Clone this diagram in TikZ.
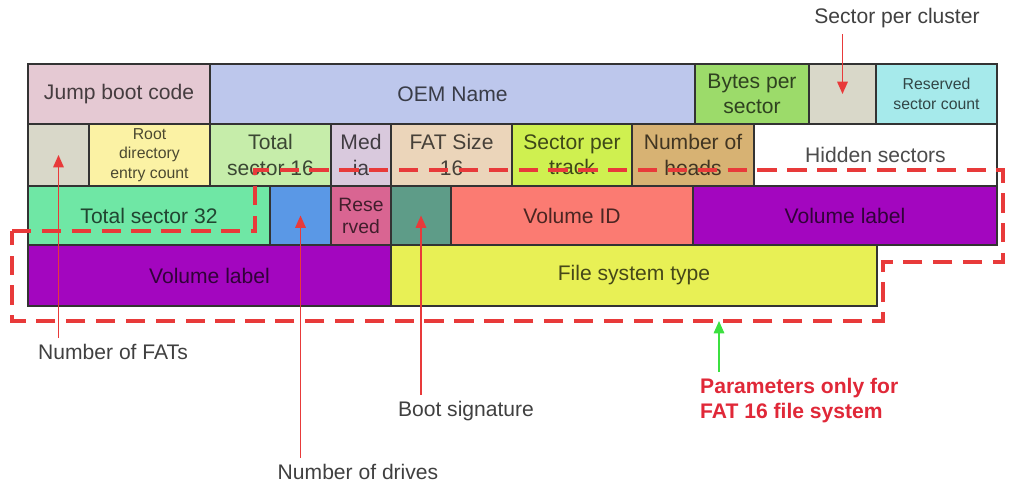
\documentclass[tikz,border=0pt]{standalone}
\usepackage{fontspec}
\setmainfont{Liberation Sans}
\usetikzlibrary{arrows.meta}

\definecolor{jumpc}{HTML}{E5C9D3}
\definecolor{oemc}{HTML}{BDC7EC}
\definecolor{bpsc}{HTML}{9CDB6A}
\definecolor{spcc}{HTML}{D9D8C9}
\definecolor{rscc}{HTML}{A6EAEB}
\definecolor{rootc}{HTML}{FBF2A4}
\definecolor{tsxvic}{HTML}{C6EDAA}
\definecolor{mediac}{HTML}{D9C9DD}
\definecolor{fatxvic}{HTML}{EBD5BA}
\definecolor{sptc}{HTML}{CFF050}
\definecolor{headc}{HTML}{D7B273}
\definecolor{tsxxxiic}{HTML}{6FE7A5}
\definecolor{drvc}{HTML}{5A98E6}
\definecolor{resvc}{HTML}{D96592}
\definecolor{bsigc}{HTML}{5E9C88}
\definecolor{volidc}{HTML}{FB7B72}
\definecolor{vlabc}{HTML}{A306BF}
\definecolor{fstc}{HTML}{E8F055}
\definecolor{markred}{HTML}{E83A3A}
\definecolor{notered}{HTML}{E02838}
\definecolor{markgreen}{HTML}{3CE040}

% one field of the boot sector: name, corners, colour, node options, text
\newcommand{\field}[8]{%
  \draw[field=#6] (#2,#3) rectangle (#4,#5)
    node[midway, text=#6!30!black, #7] (#1) {#8};}

\newcommand{\fsmall}{\fontsize{9}{11}\selectfont}

\begin{document}
\begin{tikzpicture}[x=0.02cm, y=-0.02cm,
    every node/.style={align=center, font=\fontsize{12}{14.5}\selectfont},
    field/.style={draw=black!80, line width=0.8pt, fill=#1},
    fatonly/.style={draw=markred, line width=1.8pt, dash pattern=on 11pt off 6pt},
    ptr/.style={draw=markred, line width=0.8pt, -{Triangle[length=7pt, width=6pt]}},
    label/.style={text=black!75}]
  \useasboundingbox (0,0) rectangle (1013,483);

  % row 1
  \field{jump}{28}{64}{210}{124}{jumpc}{}{Jump boot code}
  \field{oem}{210}{64}{695}{124}{oemc}{}{OEM Name}
  \field{bps}{695}{64}{809}{124}{bpsc}{}{Bytes per\\sector}
  \field{spc}{809}{64}{876}{124}{spcc}{}{}
  \field{rsc}{876}{64}{997}{124}{rscc}{font=\fsmall}{Reserved\\sector count}

  % row 2
  \field{nfat}{28}{124}{89}{186}{spcc}{}{}
  \field{root}{89}{124}{210}{186}{rootc}{font=\fsmall}{Root\\directory\\entry count}
  \field{tsxvi}{210}{124}{331}{186}{tsxvic}{}{Total\\sector 16}
  \field{media}{331}{124}{391}{186}{mediac}{}{Med\\ia}
  \field{fatxvi}{391}{124}{512}{186}{fatxvic}{}{FAT Size\\16}
  \field{spt}{512}{124}{632}{186}{sptc}{}{Sector per\\track}
  \field{heads}{632}{124}{754}{186}{headc}{}{Number of\\heads}
  \field{hidden}{754}{124}{997}{186}{white}{}{Hidden sectors}

  % row 3
  \field{tsxxxii}{28}{186}{270}{245}{tsxxxiic}{}{Total sector 32}
  \field{drv}{270}{186}{331}{245}{drvc}{}{}
  \field{resv}{331}{186}{391}{245}{resvc}{font=\fontsize{11}{12.5}\selectfont}{Rese\\rved}
  \field{bsig}{391}{186}{451}{245}{bsigc}{}{}
  \field{volid}{451}{186}{693}{245}{volidc}{}{Volume ID}
  \field{vlaba}{693}{186}{997}{245}{vlabc}{}{Volume label}

  % row 4
  \field{vlabb}{28}{245}{391}{306}{vlabc}{}{Volume label}
  \field{fstype}{391}{245}{877}{306}{fstc}{}{File system type}

  % FAT 16 only region
  \draw[fatonly] (12,231) -- (255,231) -- (255,170) -- (1003,170)
    -- (1003,262) -- (883,262) -- (883,321) -- (12,321) -- cycle;
  \coordinate (fatbot) at (719,321);

  % labels
  \node[label] (spclbl) at (897,18) {Sector per cluster};
  \node[label, anchor=west] (nfatlbl) at (32,352) {Number of FATs};
  \node[label] (drvlbl) at (358,472) {Number of drives};
  \node[label] (bsiglbl) at (466,411) {Boot signature};
  \node[text=notered, anchor=north west, font=\bfseries\fontsize{12}{14.5}\selectfont,
    align=left] (note) at (694,372) {Parameters only for\\FAT 16 file system};

  % pointers
  \draw[ptr] (spclbl.south -| spc.center) -- (spc.center);
  \draw[ptr] (nfatlbl.north -| nfat.center) -- (nfat.center);
  \draw[ptr] (drvlbl.north -| drv.center) -- (drv.center);
  \draw[ptr] (bsiglbl.north -| bsig.center) -- (bsig.center);
  \draw[ptr, draw=markgreen] (note.north -| fatbot) -- (fatbot);
\end{tikzpicture}
\end{document}
